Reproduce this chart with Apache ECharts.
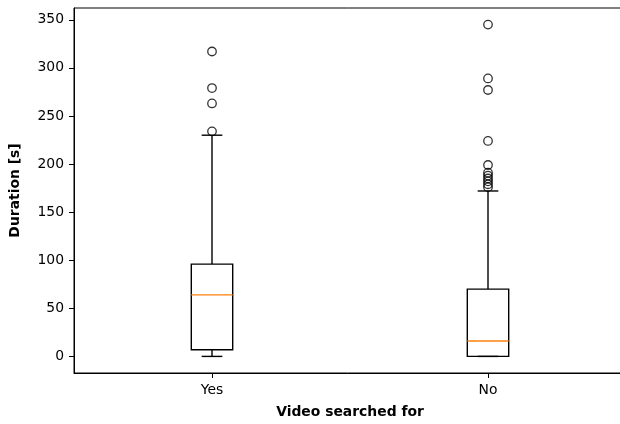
<!DOCTYPE html>
<html>
<head>
<meta charset="utf-8">
<script src="https://cdn.jsdelivr.net/npm/echarts@6/dist/echarts.min.js"></script>
<style>
  html, body { margin: 0; padding: 0; background: #fff; }
  #chart { width: 620px; height: 424px; }
</style>
</head>
<body>
<div id="chart"></div>
<script>
// Groups on the x axis
const categories = ['Yes', 'No'];

// Box statistics per group (seconds)
const whiskerLow  = [0, 0];
const quartile1   = [7, 0];
const medians     = [64, 16];
const quartile3   = [96, 70];
const whiskerHigh = [230, 172];

// Points beyond the whiskers
const outliersYes = [317, 279, 263, 234];
const outliersNo  = [345, 289, 277, 224, 199, 191, 188, 185, 182, 179, 176];

// Y axis tick labels
const yTicks = [0, 50, 100, 150, 200, 250, 300, 350];

const boxData = categories.map((c, i) =>
  [i, whiskerLow[i], quartile1[i], medians[i], quartile3[i], whiskerHigh[i]]);

const outlierData = [];
outliersYes.forEach(v => outlierData.push([0, v]));
outliersNo.forEach(v => outlierData.push([1, v]));

const FONT = 'DejaVu Sans';
const chart = echarts.init(document.getElementById('chart'), null, { renderer: 'canvas' });

chart.setOption({
  animation: false,
  backgroundColor: '#fff',
  grid: {
    left: 74, top: 8, width: 552, height: 365,
    outerBoundsMode: 'none',
    containLabel: false,
    show: true, borderColor: '#000', borderWidth: 1, backgroundColor: 'transparent'
  },
  xAxis: {
    type: 'category',
    data: categories,
    boundaryGap: true,
    name: 'Video searched for',
    nameLocation: 'middle',
    nameGap: 32,
    nameTextStyle: { fontFamily: FONT, fontWeight: 'bold', fontSize: 13.9, color: '#000' },
    axisLine: { show: true, onZero: false, lineStyle: { color: '#000', width: 1 } },
    axisTick: { show: true, alignWithLabel: true, length: 5, lineStyle: { color: '#000', width: 1 } },
    axisLabel: { fontFamily: FONT, fontSize: 13.9, color: '#000', margin: 10 },
    splitLine: { show: false }
  },
  yAxis: {
    type: 'value',
    min: -17.25,
    max: 362.25,
    name: 'Duration [s]',
    nameLocation: 'middle',
    nameRotate: 90,
    nameGap: 52,
    nameTextStyle: { fontFamily: FONT, fontWeight: 'bold', fontSize: 13.9, color: '#000' },
    axisLine: { show: true, onZero: false, lineStyle: { color: '#000', width: 1 } },
    axisTick: { show: true, length: 5, customValues: yTicks, lineStyle: { color: '#000', width: 1 } },
    axisLabel: { fontFamily: FONT, fontSize: 13.9, color: '#000', margin: 10, customValues: yTicks },
    splitLine: { show: false }
  },
  series: [
    {
      type: 'custom',
      data: boxData,
      encode: { x: 0, y: [1, 2, 3, 4, 5] },
      renderItem: function (params, api) {
        const i = api.value(0);
        const lo = api.coord([i, api.value(1)]);
        const q1 = api.coord([i, api.value(2)]);
        const med = api.coord([i, api.value(3)]);
        const q3 = api.coord([i, api.value(4)]);
        const hi = api.coord([i, api.value(5)]);
        const band = api.size([1, 0])[0];
        const bw = band * 0.15;
        const cw = bw / 2;
        const x = q1[0];
        const line = { stroke: '#000', lineWidth: 1.4, fill: null };
        return {
          type: 'group',
          children: [
            { type: 'line', shape: { x1: x, y1: q3[1], x2: x, y2: hi[1] }, style: line },
            { type: 'line', shape: { x1: x, y1: q1[1], x2: x, y2: lo[1] }, style: line },
            { type: 'line', shape: { x1: x - cw / 2, y1: hi[1], x2: x + cw / 2, y2: hi[1] }, style: line },
            { type: 'line', shape: { x1: x - cw / 2, y1: lo[1], x2: x + cw / 2, y2: lo[1] }, style: line },
            { type: 'rect', shape: { x: x - bw / 2, y: q3[1], width: bw, height: q1[1] - q3[1] }, style: line },
            { type: 'line', shape: { x1: x - bw / 2, y1: med[1], x2: x + bw / 2, y2: med[1] },
              style: { stroke: '#ff7f0e', lineWidth: 1.4 } }
          ]
        };
      },
      z: 2
    },
    {
      type: 'scatter',
      data: outlierData,
      symbol: 'circle',
      symbolSize: 8.5,
      itemStyle: { color: 'rgba(0,0,0,0)', borderColor: '#000', borderWidth: 1.3 },
      z: 3
    }
  ]
});
</script>
</body>
</html>
